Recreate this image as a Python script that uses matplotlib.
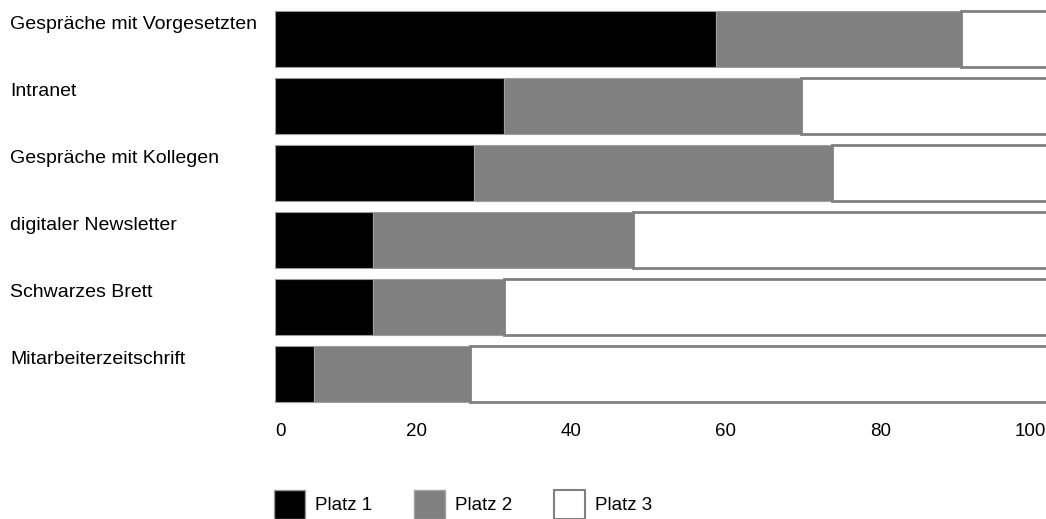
import matplotlib
matplotlib.use('Agg')
import matplotlib.pyplot as plt
import matplotlib.transforms as mtransforms
from matplotlib.patches import Patch

plt.rcParams['font.family'] = ['Liberation Sans', 'DejaVu Sans']

# data (percent)
kategorien = ['Gespräche mit Vorgesetzten', 'Intranet', 'Gespräche mit Kollegen',
              'digitaler Newsletter', 'Schwarzes Brett', 'Mitarbeiterzeitschrift']
platz1 = [57.0, 29.6, 25.7, 12.6, 12.6, 5.1]
platz2 = [31.6, 38.4, 46.3, 33.6, 17.0, 20.1]
platz3 = [11.4, 32.0, 28.0, 53.8, 70.4, 74.8]
xticks = [0, 20, 40, 60, 80, 100]
serien = ['Platz 1', 'Platz 2', 'Platz 3']

W, H = 1046, 519
fig = plt.figure(figsize=(W / 100, H / 100), dpi=100)
# axes in pixel terms: x 275..1049 (cut at the right edge like the original), y 5.5..407.5
ax = fig.add_axes([275 / W, 1 - 407.5 / H, (1049 - 275) / W, 402 / H])

pos = list(range(len(kategorien)))
h = 0.85
left2 = [a for a in platz1]
left3 = [a + b for a, b in zip(platz1, platz2)]
ax.barh(pos, platz1, height=h, color='black', edgecolor='#9a9a9a', linewidth=0.8)
ax.barh(pos, platz2, left=left2, height=h, color='#808080', edgecolor='#a0a0a0', linewidth=0.8)
ax.barh(pos, platz3, left=left3, height=h, color='white', edgecolor='#808080', linewidth=2)

ax.set_xlim(0, 100)
ax.set_ylim(len(kategorien) - 0.5, -0.5)
for s in ax.spines.values():
    s.set_visible(False)
ax.set_yticks([])
ax.set_xticks(xticks)
ax.set_xticklabels([str(t) for t in xticks])
ax.tick_params(axis='x', length=0, pad=11, labelsize=13.5)
shift = mtransforms.ScaledTranslation(-3 / 100, 0, fig.dpi_scale_trans)
for k, lab in enumerate(ax.get_xticklabels()):
    if k == 0:
        lab.set_ha('left')
    else:
        lab.set_ha('right')
        lab.set_transform(lab.get_transform() + shift)

trans = mtransforms.blended_transform_factory(fig.transFigure, ax.transData)
for i, name in enumerate(kategorien):
    ax.text(10 / W, i - 0.22, name, transform=trans, ha='left', va='center',
            fontsize=14, clip_on=False)

handles = [Patch(facecolor='black', edgecolor='#9a9a9a'),
           Patch(facecolor='#808080', edgecolor='#a0a0a0'),
           Patch(facecolor='white', edgecolor='#808080', linewidth=1.5)]
fig.legend(handles, serien, loc='lower left', bbox_to_anchor=(257 / W, -17 / H),
           ncol=3, frameon=False, fontsize=13.5, handlelength=1.65, handleheight=2.05,
           handletextpad=0.53, columnspacing=2.25)

fig.savefig('out.png', dpi=100)
